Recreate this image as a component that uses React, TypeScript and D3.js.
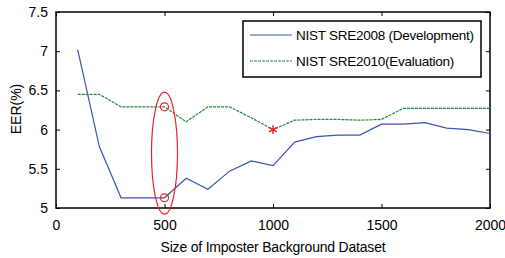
import React, { useEffect, useRef } from 'react';
import * as d3 from 'd3';

const imposterSizes = [100, 200, 300, 400, 500, 600, 700, 800, 900, 1000, 1100, 1200, 1300, 1400, 1500, 1600, 1700, 1800, 1900, 2000];
const sre2008 = [7.02, 5.78, 5.13, 5.13, 5.13, 5.38, 5.24, 5.47, 5.6, 5.54, 5.84, 5.91, 5.93, 5.93, 6.07, 6.07, 6.09, 6.02, 6.0, 5.95];
const sre2010 = [6.45, 6.45, 6.29, 6.29, 6.29, 6.1, 6.29, 6.29, 6.15, 6.0, 6.12, 6.13, 6.13, 6.12, 6.13, 6.27, 6.27, 6.27, 6.27, 6.27];
const xTicks = [0, 500, 1000, 1500, 2000];
const yTicks = [5, 5.5, 6, 6.5, 7, 7.5];
const seriesNames = ['NIST SRE2008 (Development)', 'NIST SRE2010(Evaluation)'];

const App = () => {
  const svgRef = useRef<SVGSVGElement>(null);

  useEffect(() => {
    const margin = { top: 12, right: 15, bottom: 50, left: 56 };
    const W = 505, H = 258;
    const width = W - margin.left - margin.right;
    const height = H - margin.top - margin.bottom;
    const font = 'Liberation Sans, Arial, sans-serif';

    const svg = d3.select(svgRef.current).attr('width', W).attr('height', H);
    svg.selectAll('*').remove();
    const g = svg.append('g').attr('transform', `translate(${margin.left},${margin.top})`);

    const x = d3.scaleLinear().domain([0, 2000]).range([0, width]);
    const y = d3.scaleLinear().domain([5, 7.5]).range([height, 0]);

    // inward ticks on all four sides
    const styleAxis = (sel: any) => {
      sel.select('.domain').remove();
      sel.selectAll('line').attr('stroke', '#000');
      sel.selectAll('text').style('font-family', font).style('font-size', '14px').attr('fill', '#000');
    };
    g.append('g').attr('transform', `translate(0,${height})`)
      .call(d3.axisBottom(x).tickValues(xTicks).tickSize(-4).tickPadding(12).tickFormat(d3.format('d')))
      .call(styleAxis);
    g.append('g').call(d3.axisTop(x).tickValues(xTicks).tickSize(-4).tickFormat(() => '')).call(styleAxis);
    g.append('g')
      .call(d3.axisLeft(y).tickValues(yTicks).tickSize(-4).tickPadding(8).tickFormat(d3.format('')))
      .call(styleAxis);
    g.append('g').attr('transform', `translate(${width},0)`)
      .call(d3.axisRight(y).tickValues(yTicks).tickSize(-4).tickFormat(() => '')).call(styleAxis);

    g.append('rect').attr('width', width).attr('height', height)
      .attr('fill', 'none').attr('stroke', '#000').attr('stroke-width', 1.5);

    const line = d3.line<number>().x((_, i) => x(imposterSizes[i])).y((d) => y(d));
    g.append('path').datum(sre2008).attr('d', line).attr('fill', 'none')
      .attr('stroke', '#3a55b0').attr('stroke-width', 1.2);
    g.append('path').datum(sre2010).attr('d', line).attr('fill', 'none')
      .attr('stroke', '#1e8a3e').attr('stroke-width', 1.2).attr('stroke-dasharray', '3,1');

    // red annotations at 500 and 1000
    const cx = x(500);
    g.append('ellipse').attr('cx', cx).attr('cy', (y(6.45) + y(5.0)) / 2 + 2)
      .attr('rx', 13).attr('ry', 61).attr('fill', 'none').attr('stroke', '#e8242a').attr('stroke-width', 1.2);
    g.append('circle').attr('cx', cx).attr('cy', y(sre2010[4])).attr('r', 4)
      .attr('fill', 'none').attr('stroke', '#e8242a').attr('stroke-width', 1.2);
    g.append('circle').attr('cx', cx).attr('cy', y(sre2008[4])).attr('r', 4)
      .attr('fill', 'none').attr('stroke', '#e8242a').attr('stroke-width', 1.2);
    g.append('path').attr('d', d3.symbol(d3.symbolAsterisk, 55)())
      .attr('transform', `translate(${x(1000)},${y(sre2010[9])})`)
      .attr('fill', 'none').attr('stroke', '#e8242a').attr('stroke-width', 1.5);

    // legend
    const lg = svg.append('g').attr('transform', 'translate(243,21)');
    lg.append('rect').attr('width', 238).attr('height', 56).attr('fill', '#fff')
      .attr('stroke', '#000').attr('stroke-width', 1.5);
    const legendColors = ['#3a55b0', '#1e8a3e'];
    seriesNames.forEach((name, i) => {
      const ly = 14 + i * 26;
      lg.append('line').attr('x1', 7).attr('x2', 49).attr('y1', ly).attr('y2', ly)
        .attr('stroke', legendColors[i]).attr('stroke-width', 1.2)
        .attr('stroke-dasharray', i === 1 ? '3,1' : null);
      lg.append('text').attr('x', 53).attr('y', ly + 5).text(name)
        .style('font-family', font).style('font-size', '13.5px').style('letter-spacing', '-0.25px')
        .attr('fill', '#000');
    });

    svg.append('text').attr('x', margin.left + width / 2).attr('y', 252)
      .attr('text-anchor', 'middle').text('Size of Imposter Background Dataset')
      .style('font-family', font).style('font-size', '14px').style('letter-spacing', '-0.2px');
    svg.append('text').attr('transform', 'translate(21,109) rotate(-90)')
      .attr('text-anchor', 'middle').text('EER(%)')
      .style('font-family', font).style('font-size', '14px');
  }, []);

  return <svg ref={svgRef} style={{ position: 'absolute', left: 0, top: 0, background: '#fff' }}></svg>;
};

export default App;
